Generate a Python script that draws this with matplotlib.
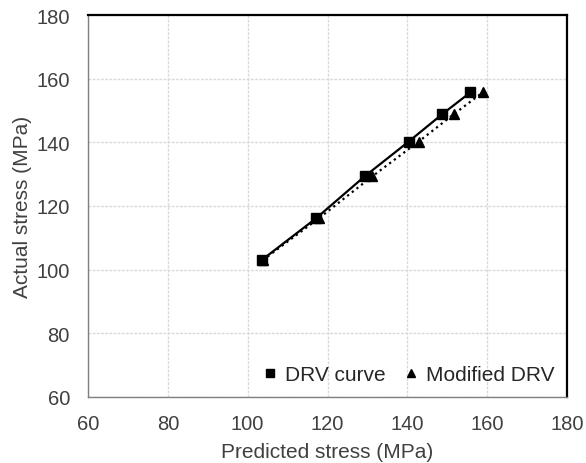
import matplotlib
matplotlib.use("Agg")
import matplotlib.pyplot as plt

drv_pred = [103.5, 117.1, 129.3, 140.3, 148.7, 155.8]
drv_act = [103.0, 116.1, 129.3, 140.2, 148.8, 155.7]
mod_pred = [103.8, 117.8, 131.2, 142.8, 151.6, 158.9]
mod_act = [103.0, 116.1, 129.3, 140.2, 148.8, 155.7]
ticks = [60, 80, 100, 120, 140, 160, 180]

plt.rcParams["font.family"] = ["Liberation Sans", "DejaVu Sans"]

fig = plt.figure(figsize=(5.86, 4.64), dpi=100)
ax = fig.add_axes([88 / 586, 1 - 398 / 464, 479 / 586, 382 / 464])

ax.plot(drv_pred, drv_act, color="black", lw=1.6, ls="-", marker="s", ms=7,
        label="DRV curve", zorder=3)
ax.plot(mod_pred, mod_act, color="black", lw=1.6, ls=":", marker="^", ms=7,
        label="Modified DRV", zorder=2)

ax.set_xlim(60, 180)
ax.set_ylim(60, 180)
ax.set_xticks(ticks)
ax.set_yticks(ticks)
ax.grid(True, color="#d9d9d9", lw=1.0, ls="--", dashes=(2, 1))
ax.set_axisbelow(True)
ax.tick_params(length=0, labelsize=14.5, colors="#404040")
ax.tick_params(axis="x", pad=12)
ax.tick_params(axis="y", pad=13)

for s in ["left", "bottom"]:
    ax.spines[s].set_color("#808080")
    ax.spines[s].set_linewidth(1.0)
for s in ["top", "right"]:
    ax.spines[s].set_color("black")
    ax.spines[s].set_linewidth(1.6)

ax.set_xlabel("Predicted stress (MPa)", fontsize=15, color="#404040", labelpad=7)
ax.set_ylabel("Actual stress (MPa)", fontsize=15, color="#404040", labelpad=3)

leg = ax.legend(loc="lower right", ncol=2, frameon=False, fontsize=15,
                handlelength=0.5, handletextpad=0.45, columnspacing=1.0,
                borderaxespad=0.2, markerscale=0.75)
for h in leg.get_lines():
    h.set_linestyle("none")
for t in leg.get_texts():
    t.set_color("#262626")

fig.savefig("out.png", dpi=100)
